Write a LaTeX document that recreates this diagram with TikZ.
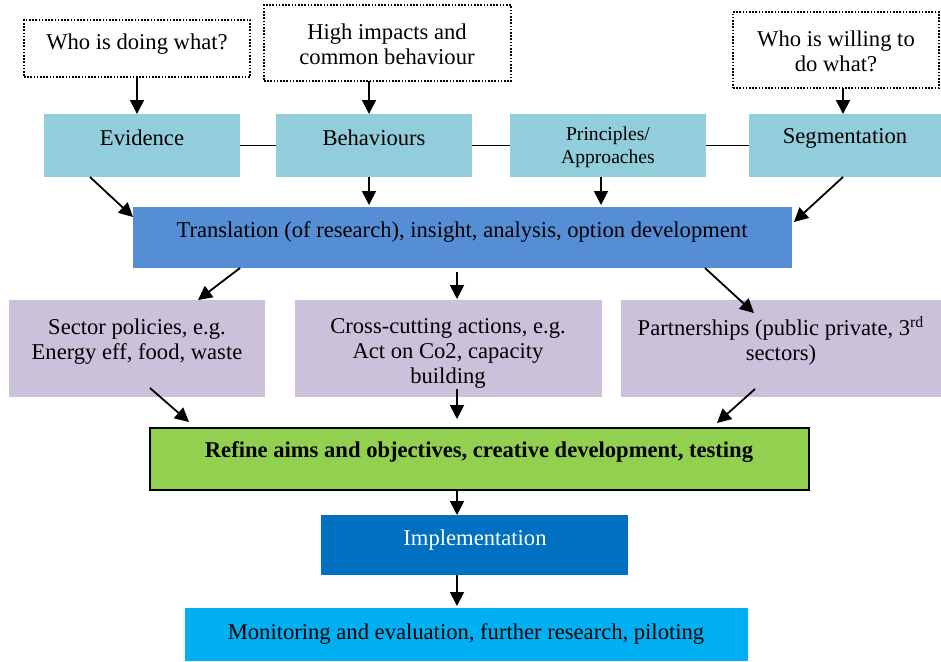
\documentclass[tikz,border=0pt]{standalone}
\usepackage{fontspec}
\setmainfont{Liberation Serif}
\usetikzlibrary{arrows.meta,calc,fit}
\definecolor{srcblue}{HTML}{92CDDC}
\definecolor{transblue}{HTML}{558ED5}
\definecolor{lilac}{HTML}{CCC1DA}
\definecolor{refgreen}{HTML}{92D050}
\definecolor{implblue}{HTML}{0070C0}
\definecolor{monblue}{HTML}{00B0F0}
\begin{document}
\begin{tikzpicture}[x=0.5pt,y=-0.5pt,
  area/.style={inner sep=0pt, outer sep=0pt},
  question/.style={area, draw=black, line width=0.8pt, dash pattern=on 0.8pt off 0.8pt},
  txt/.style={align=center, inner sep=0pt, font=\fontsize{11.3}{12.4}\selectfont},
  smalltxt/.style={align=center, inner sep=0pt, font=\fontsize{9.8}{11.4}\selectfont},
  arr/.style={line width=0.9pt, -{Triangle[length=7pt,width=7pt]}},
  link/.style={line width=0.9pt}]
\useasboundingbox (0,0) rectangle (941,661);

% question boxes
\node[question, fit={(24,20) (250,77)}] (who) {};
\node[txt] (who-t) at (137,44.5) {Who is doing what?};
\node[question, fit={(264,5) (511,81)}] (high) {};
\node[txt] (high-t) at (387,44) {High impacts and\\common behaviour};
\node[question, fit={(733,12) (939,88)}] (will) {};
\node[txt] (will-t) at (836,51) {Who is willing to\\do what?};

% source boxes
\node[area, fill=srcblue, fit={(44,114) (240,177)}] (evid) {};
\node[txt] (evid-t) at (142,138) {Evidence};
\node[area, fill=srcblue, fit={(276,114) (472,177)}] (behav) {};
\node[txt] (behav-t) at (374,138) {Behaviours};
\node[area, fill=srcblue, fit={(510,114) (706,177)}] (princ) {};
\node[smalltxt] (princ-t) at (608,147) {Principles/\\Approaches};
\node[area, fill=srcblue, fit={(749,114) (941,177)}] (seg) {};
\node[txt] (seg-t) at (845,138.5) {Segmentation};

% translation
\node[area, fill=transblue, fit={(133,207) (792,268)}] (trans) {};
\node[txt] (trans-t) at (462,231.5) {Translation (of research), insight, analysis, option development};

% option boxes
\node[area, fill=lilac, fit={(9,300) (265,397)}] (sector) {};
\node[txt] (sector-t) at (137,341.5) {Sector policies, e.g.\\Energy eff, food, waste};
\node[area, fill=lilac, fit={(295,300) (602,397)}] (cross) {};
\node[txt] (cross-t) at (448,353.5) {Cross-cutting actions, e.g.\\Act on Co2, capacity\\building};
\node[area, fill=lilac, fit={(621,300) (941,397)}] (part) {};
\node[txt] (part-t) at (781,341) {Partnerships (public private, 3\textsuperscript{rd}\\sectors)};

% refine
\node[area, fill=refgreen, draw=black, line width=1pt, fit={(150,428) (809,490)}] (refine) {};
\node[txt, font=\fontsize{11.3}{12.4}\selectfont\bfseries] (refine-t) at (479,452.5) {Refine aims and objectives, creative development, testing};

% implementation
\node[area, fill=implblue, fit={(321,515) (628,575)}] (impl) {};
\node[txt, text=white] (impl-t) at (475,540.5) {Implementation};

% monitoring
\node[area, fill=monblue, fit={(185,608) (748,661)}] (mon) {};
\node[txt] (mon-t) at (466,633.5) {Monitoring and evaluation, further research, piloting};

% links along the source row
\draw[link] (evid.east) -- (behav.west);
\draw[link] (behav.east) -- (princ.west);
\draw[link] (princ.east) -- (seg.west);

% questions into sources
\draw[arr] (who.south) -- (who.south |- evid.north);
\draw[arr] ($(high.south west)+(105,0)$) -- ($(behav.north west)+(93,0)$);
\draw[arr] ($(will.south west)+(110,0)$) -- ($(seg.north west)+(94,0)$);

% sources into translation
\draw[arr] ($(evid.south west)+(46,0)$) -- ($(trans.north west)+(0,10)$);
\draw[arr] ($(behav.south west)+(93,0)$) -- ($(trans.north west)+(236,-2)$);
\draw[arr] ($(princ.south west)+(91,0)$) -- ($(trans.north west)+(468,-2)$);
\draw[arr] ($(seg.south west)+(94,0)$) -- ($(trans.north east)+(2,15)$);

% translation into options
\draw[arr] ($(trans.south west)+(107,0)$) -- ($(sector.north west)+(189,0)$);
\draw[arr] ($(trans.south west)+(324,4)$) -- ($(cross.north west)+(162,-1)$);
\draw[arr] ($(trans.south east)+(-87,0)$) -- ($(part.north west)+(133,13)$);

% options into refine
\draw[arr] ($(sector.south west)+(141,-9)$) -- ($(refine.north west)+(39,-6)$);
\draw[arr] ($(cross.south west)+(162,-8)$) -- ($(refine.north west)+(307,-9)$);
\draw[arr] ($(part.south west)+(134,-8)$) -- ($(refine.north east)+(-92,-5)$);

% delivery chain
\draw[arr] ($(refine.south west)+(307,0)$) -- ($(impl.north west)+(136,0)$);
\draw[arr] ($(impl.south west)+(136,0)$) -- ($(mon.north west)+(272,-2)$);
\end{tikzpicture}
\end{document}
